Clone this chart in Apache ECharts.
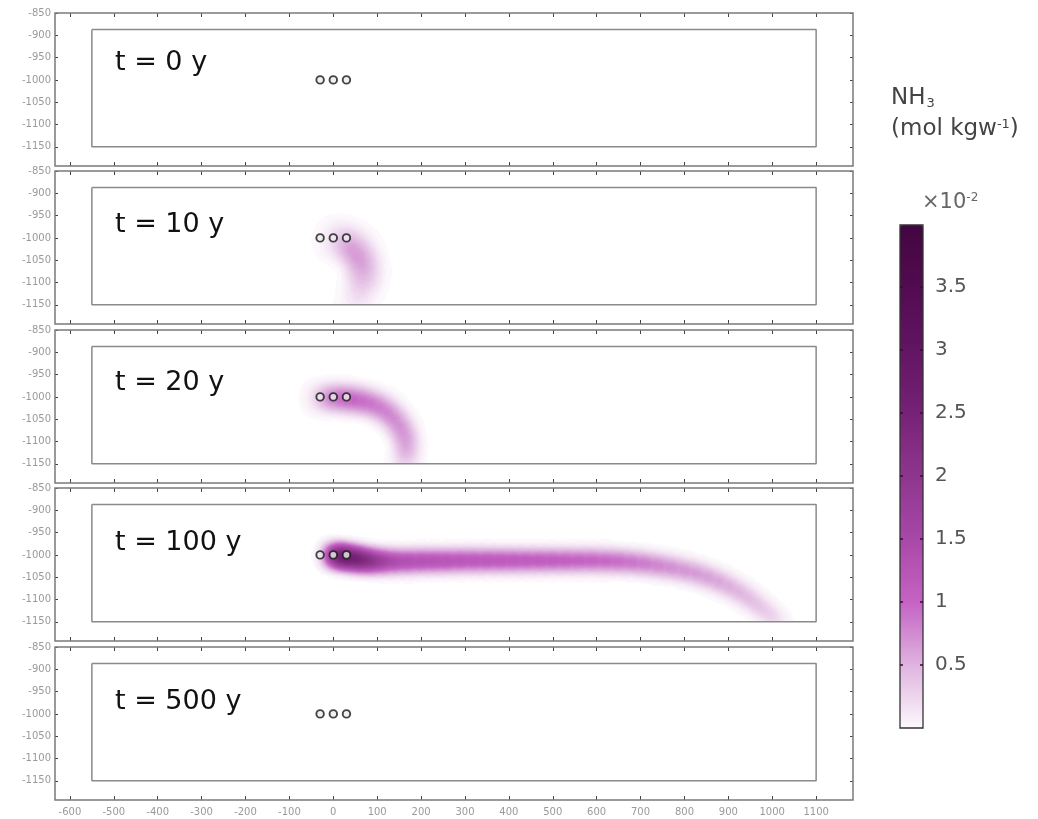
<!DOCTYPE html>
<html><head><meta charset="utf-8">
<script src="https://cdn.jsdelivr.net/npm/echarts@6/dist/echarts.min.js"></script>
<style>html,body{margin:0;padding:0;background:#fff}#c{width:1038px;height:819px}</style>
</head><body><div id="c"></div>
<script>
// ---------- data ----------
const panelLabels = ['t = 0 y', 't = 10 y', 't = 20 y', 't = 100 y', 't = 500 y'];
const xTicks = [-600,-500,-400,-300,-200,-100,0,100,200,300,400,500,600,700,800,900,1000,1100];
const yTicks = [-850,-900,-950,-1000,-1050,-1100,-1150];
const xRange = [-634, 1184];
const yRange = [-1193, -850];
const domainX = [-550, 1100];
const domainY = [-1150, -887];
const wellX = [-30, 0, 30];
const wellY = [-1000, -1000, -1000];
// plume centre-line samples [x, y, NH3 (x10^-2 mol/kgw)]
const plumeT0 = [];
const plumeT10 = [[10,-1004,0.3],[26,-1009,0.42],[40,-1018,0.45],[52,-1030,0.45],[61,-1044,0.45],[67,-1059,0.42],[70,-1074,0.38],[69,-1090,0.32],[65,-1106,0.26],[59,-1121,0.2],[53,-1135,0.15],[48,-1147,0.12]];
const plumeT20 = [[-30,-1002,0.45],[-10,-1002,0.7],[10,-1002,0.85],[30,-1004,0.9],[50,-1006,0.88],[70,-1010,0.82],[90,-1015,0.75],[108,-1023,0.7],[124,-1034,0.66],[138,-1047,0.62],[150,-1062,0.58],[159,-1078,0.55],[165,-1094,0.5],[167,-1111,0.45],[166,-1128,0.38],[162,-1144,0.3]];
const plumeT100 = [[0,-1001,2.4],[15,-1003,3.3],[30,-1005,3.7],[48,-1008,3.4],[66,-1011,2.9],[88,-1013,2.4],[112,-1014,2.1],[140,-1014,1.95],[170,-1014,1.85],[200,-1013,1.8],[230,-1013,1.75],[260,-1013,1.7],[290,-1012,1.65],[320,-1012,1.62],[350,-1012,1.6],[380,-1012,1.57],[410,-1012,1.55],[440,-1012,1.52],[470,-1012,1.5],[500,-1012,1.47],[530,-1012,1.44],[560,-1012,1.4],[590,-1012,1.37],[620,-1013,1.33],[650,-1014,1.28],[680,-1016,1.22],[710,-1019,1.15],[740,-1023,1.07],[770,-1028,1.0],[800,-1034,0.92],[828,-1041,0.85],[855,-1050,0.78],[880,-1060,0.7],[903,-1071,0.62],[925,-1083,0.55],[945,-1096,0.48],[963,-1109,0.42],[980,-1122,0.36],[995,-1135,0.3],[1010,-1147,0.24]];
const plumeT500 = [];
const plumes = [plumeT0, plumeT10, plumeT20, plumeT100, plumeT500];
const colorbarTicks = [0.5, 1, 1.5, 2, 2.5, 3, 3.5];
const colorbarRange = [0, 3.99];
const colorbarColors = ['#fcf8fc','#dfb4df','#c463c4','#a848a8','#8e368e','#762276','#621562','#520b51','#430640'];

// ---------- layout ----------
const gridTops = [13, 171, 330, 488, 647];
const gridH = 153, gridLeft = 55, gridW = 798;
const labelCenters = [65, 227, 385, 545, 704];
const plumeBrush = [null, [10, 24], [8, 18], [7, 15], null]; // [pointSize, blurSize]
const plumeGain = 1.5; // heatmap intensity scale (rendering calibration)
const FONT = 'DejaVu Sans';
const fmt = v => String(v);

echarts.registerMap('domain', {type: 'FeatureCollection', features: [{type: 'Feature', properties: {name: 'domain'},
  geometry: {type: 'Polygon', coordinates: [[[domainX[0], domainY[1]], [domainX[1], domainY[1]], [domainX[1], domainY[0]], [domainX[0], domainY[0]], [domainX[0], domainY[1]]]]}}]});

function buildOption(geoRects) {
  const grids = [], xAxes = [], yAxes = [], series = [], titles = [], geos = [];
  const heatIdx = [];
  gridTops.forEach((top, i) => {
    grids.push({left: gridLeft, top: top, width: gridW, height: gridH, show: true,
      borderColor: '#7a7a7a', borderWidth: 1.5, backgroundColor: 'transparent', z: 5});
    const tick = {show: true, inside: true, length: 4, lineStyle: {color: '#444', width: 1}};
    const line = {show: false, onZero: false};
    xAxes.push({type: 'value', gridIndex: i, position: 'bottom', min: xRange[0], max: xRange[1],
      axisLine: line, splitLine: {show: false},
      axisTick: Object.assign({customValues: xTicks}, tick),
      axisLabel: {show: i === 4, customValues: xTicks, formatter: fmt, color: '#9a9a9a', fontSize: 10, fontFamily: FONT, margin: 7}});
    xAxes.push({type: 'value', gridIndex: i, position: 'top', min: xRange[0], max: xRange[1],
      axisLine: line, splitLine: {show: false},
      axisTick: Object.assign({customValues: xTicks}, tick), axisLabel: {show: false}});
    yAxes.push({type: 'value', gridIndex: i, position: 'left', min: yRange[0], max: yRange[1],
      axisLine: line, splitLine: {show: false},
      axisTick: Object.assign({customValues: yTicks}, tick, {length: 3}),
      axisLabel: {customValues: yTicks, formatter: fmt, color: '#9a9a9a', fontSize: 10, fontFamily: FONT, margin: 4}});
    yAxes.push({type: 'value', gridIndex: i, position: 'right', min: yRange[0], max: yRange[1],
      axisLine: line, splitLine: {show: false},
      axisTick: Object.assign({customValues: yTicks}, tick, {length: 3}), axisLabel: {show: false}});

    series.push({type: 'line', xAxisIndex: 2 * i, yAxisIndex: 2 * i, silent: true, symbol: 'none', z: 3,
      data: [[domainX[0], domainY[1]], [domainX[1], domainY[1]], [domainX[1], domainY[0]], [domainX[0], domainY[0]], [domainX[0], domainY[1]]],
      lineStyle: {color: '#8a8a8a', width: 1.5}});
    if (geoRects && plumes[i].length) {
      const r = geoRects[i];
      geos.push({map: 'domain', roam: false, silent: true, left: r.x, top: r.y, width: r.w, height: r.h,
        boundingCoords: [[domainX[0], domainY[1]], [domainX[1], domainY[0]]],
        aspectScale: (r.w / r.h) / ((domainX[1] - domainX[0]) / (domainY[1] - domainY[0])),
        label: {show: false}, emphasis: {disabled: true}, select: {disabled: true}, tooltip: {show: false},
        itemStyle: {areaColor: 'rgba(0,0,0,0)', borderColor: 'rgba(0,0,0,0)', borderWidth: 0}, z: 1});
      heatIdx.push(series.length);
      series.push({type: 'heatmap', coordinateSystem: 'geo', geoIndex: geos.length - 1, silent: true, z: 2,
        data: plumes[i], pointSize: plumeBrush[i][0], blurSize: plumeBrush[i][1], minOpacity: 1, maxOpacity: 1});
    }
    series.push({type: 'scatter', xAxisIndex: 2 * i, yAxisIndex: 2 * i, silent: true, z: 10,
      symbol: 'circle', symbolSize: 7.5,
      data: wellX.map((x, k) => [x, wellY[k]]),
      itemStyle: {color: '#eeeeee', borderColor: '#161616', borderWidth: 1.9}});

    titles.push({text: panelLabels[i], left: 115, top: labelCenters[i] - 16, padding: 0,
      textStyle: {fontFamily: FONT, fontSize: 27, fontWeight: 'normal', color: '#111'}});
  });

  grids.push({left: 900, top: 225, width: 23, height: 503, show: true, borderColor: '#333', borderWidth: 1.3,
    backgroundColor: 'transparent', z: 20});
  xAxes.push({type: 'value', gridIndex: 5, show: false, min: 0, max: 1});
  const cbTick = {show: true, inside: true, length: 3, customValues: colorbarTicks, lineStyle: {color: '#3a0a38', width: 1.5}};
  yAxes.push({type: 'value', gridIndex: 5, position: 'left', min: colorbarRange[0], max: colorbarRange[1],
    axisLine: {show: false}, splitLine: {show: false}, axisTick: cbTick, axisLabel: {show: false}, z: 21});
  yAxes.push({type: 'value', gridIndex: 5, position: 'right', min: colorbarRange[0], max: colorbarRange[1],
    axisLine: {show: false}, splitLine: {show: false}, axisTick: cbTick, z: 21,
    axisLabel: {customValues: colorbarTicks, formatter: fmt, color: '#555', fontSize: 20, fontFamily: FONT, margin: 12}});
  const dummyIdx = series.length;
  series.push({type: 'scatter', xAxisIndex: 10, yAxisIndex: 10, data: [], silent: true});

  titles.push({text: 'NH{sub|3}', left: 891, top: 87, padding: 0,
    textStyle: {fontFamily: FONT, fontSize: 23, fontWeight: 'normal', color: '#444',
      rich: {sub: {fontFamily: FONT, fontSize: 13, color: '#444', verticalAlign: 'bottom', padding: [10, 0, 0, 1]}}}});
  titles.push({text: '(mol kgw{sup|-1})', left: 891, top: 118, padding: 0,
    textStyle: {fontFamily: FONT, fontSize: 23, fontWeight: 'normal', color: '#444',
      rich: {sup: {fontFamily: FONT, fontSize: 13, color: '#444', verticalAlign: 'top', padding: [0, 0, 10, 0]}}}});
  titles.push({text: '×10{sup|-2}', left: 922, top: 192, padding: 0,
    textStyle: {fontFamily: FONT, fontSize: 21, fontWeight: 'normal', color: '#666',
      rich: {sup: {fontFamily: FONT, fontSize: 12, color: '#666', verticalAlign: 'top', padding: [0, 0, 10, 0]}}}});

  const visualMaps = [{type: 'continuous', min: colorbarRange[0], max: colorbarRange[1], dimension: 2,
    seriesIndex: [dummyIdx], left: 900, top: 225, itemWidth: 23, itemHeight: 503, padding: 0,
    calculable: false, hoverLink: false, text: null, showLabel: false, inRange: {color: colorbarColors}}];
  if (heatIdx.length) {
    visualMaps.push({type: 'continuous', show: false, min: colorbarRange[0], max: colorbarRange[1] / plumeGain,
      dimension: 2, seriesIndex: heatIdx, inRange: {color: colorbarColors}});
  }
  const opt = {animation: false, backgroundColor: '#fff', title: titles, grid: grids, xAxis: xAxes, yAxis: yAxes,
    visualMap: visualMaps, series: series};
  if (geos.length) opt.geo = geos;
  return opt;
}

const chart = echarts.init(document.getElementById('c'), null, {renderer: 'canvas'});
chart.setOption(buildOption(null));
const rects = gridTops.map((t, i) => {
  const p0 = chart.convertToPixel({xAxisIndex: 2 * i, yAxisIndex: 2 * i}, [domainX[0], domainY[1]]);
  const p1 = chart.convertToPixel({xAxisIndex: 2 * i, yAxisIndex: 2 * i}, [domainX[1], domainY[0]]);
  return {x: p0[0], y: p0[1], w: p1[0] - p0[0], h: p1[1] - p0[1]};
});
chart.setOption(buildOption(rects), {notMerge: true});
</script>
</body></html>
